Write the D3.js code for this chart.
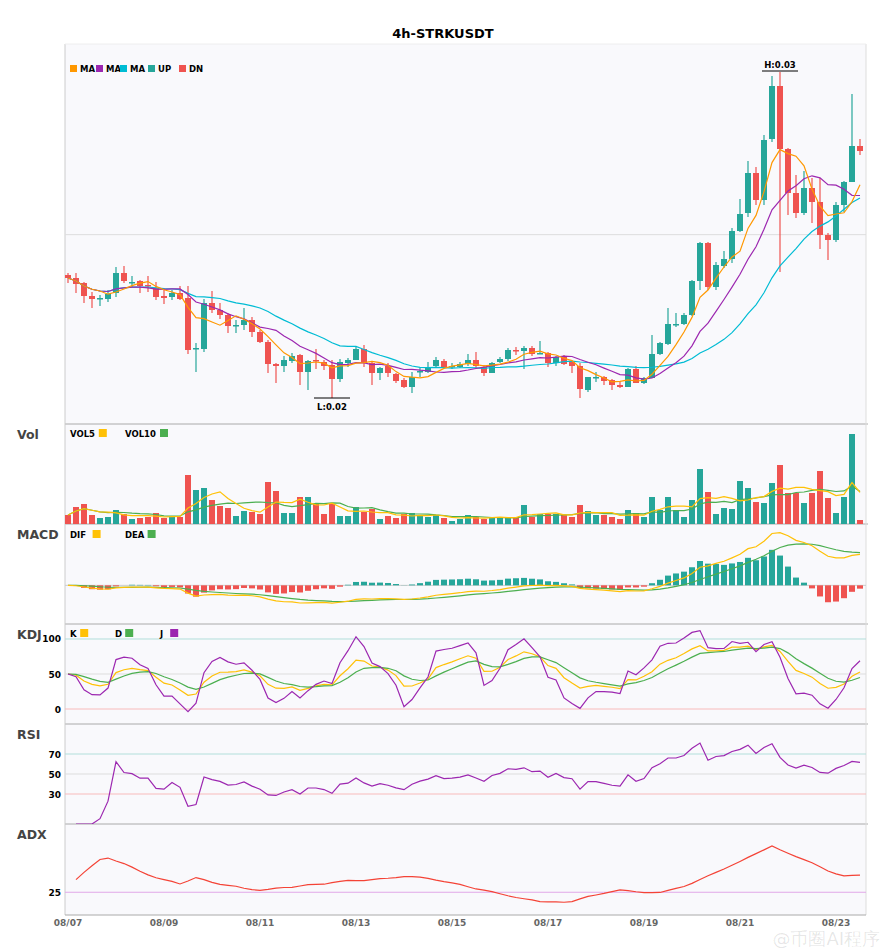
<!DOCTYPE html>
<html><head><meta charset="utf-8">
<script src="https://cdn.jsdelivr.net/npm/d3@7"></script>
<style>body{margin:0;background:#fff;font-family:"DejaVu Sans",sans-serif}</style>
</head><body><svg id="c" width="885" height="950"></svg>
<script>
// 4h candles, 08/07 00:00 onward
const opens  = [0.02379,0.02370,0.02355,0.02316,0.02307,0.02307,0.02325,0.02385,0.02355,0.02361,0.02349,0.02340,0.02316,0.02313,0.02325,0.02310,0.02157,0.02157,0.02295,0.02274,0.02259,0.02226,0.02229,0.02244,0.02208,0.02178,0.02112,0.02106,0.02121,0.02139,0.02088,0.02124,0.02118,0.02109,0.02067,0.02115,0.02124,0.02157,0.02115,0.02085,0.02106,0.02082,0.02064,0.02043,0.02088,0.02088,0.02106,0.02121,0.02103,0.02103,0.02112,0.02124,0.02103,0.02085,0.02118,0.02127,0.02154,0.02151,0.02160,0.02142,0.02145,0.02115,0.02136,0.02118,0.02106,0.02034,0.02070,0.02073,0.02064,0.02049,0.02043,0.02097,0.02055,0.02070,0.02142,0.02172,0.02229,0.02232,0.02259,0.02361,0.02475,0.02343,0.02406,0.02427,0.02511,0.02565,0.02685,0.02604,0.02787,0.02946,0.02757,0.02625,0.02565,0.02640,0.02598,0.02499,0.02484,0.02589,0.02658,0.02766];
const closes = [0.02370,0.02352,0.02316,0.02307,0.02310,0.02322,0.02385,0.02361,0.02358,0.02346,0.02346,0.02313,0.02310,0.02325,0.02307,0.02154,0.02160,0.02295,0.02274,0.02259,0.02226,0.02229,0.02244,0.02208,0.02178,0.02112,0.02106,0.02124,0.02136,0.02088,0.02121,0.02121,0.02106,0.02067,0.02118,0.02124,0.02157,0.02115,0.02085,0.02100,0.02085,0.02061,0.02043,0.02073,0.02091,0.02103,0.02124,0.02103,0.02106,0.02112,0.02124,0.02106,0.02085,0.02115,0.02127,0.02154,0.02151,0.02160,0.02142,0.02145,0.02115,0.02133,0.02112,0.02106,0.02037,0.02073,0.02073,0.02061,0.02049,0.02043,0.02097,0.02055,0.02070,0.02142,0.02175,0.02232,0.02232,0.02259,0.02361,0.02475,0.02343,0.02409,0.02427,0.02511,0.02562,0.02685,0.02604,0.02784,0.02946,0.02757,0.02625,0.02565,0.02640,0.02598,0.02499,0.02484,0.02589,0.02658,0.02766,0.02751];
const highs  = [0.02385,0.02385,0.02358,0.02328,0.02319,0.02334,0.02403,0.02406,0.02376,0.02364,0.02376,0.02358,0.02340,0.02334,0.02346,0.02346,0.02175,0.02307,0.02331,0.02295,0.02265,0.02244,0.02280,0.02253,0.02214,0.02184,0.02115,0.02136,0.02145,0.02142,0.02124,0.02157,0.02124,0.02124,0.02127,0.02130,0.02166,0.02169,0.02118,0.02103,0.02115,0.02085,0.02070,0.02088,0.02100,0.02118,0.02133,0.02127,0.02115,0.02118,0.02142,0.02148,0.02109,0.02118,0.02133,0.02160,0.02163,0.02166,0.02166,0.02181,0.02148,0.02136,0.02139,0.02121,0.02115,0.02073,0.02088,0.02076,0.02067,0.02058,0.02100,0.02106,0.02073,0.02199,0.02178,0.02280,0.02265,0.02265,0.02364,0.02478,0.02478,0.02418,0.02451,0.02520,0.02607,0.02721,0.02703,0.02799,0.02976,0.02988,0.02760,0.02679,0.02691,0.02670,0.02670,0.02505,0.02598,0.02661,0.02922,0.02787];
const lows   = [0.02355,0.02325,0.02295,0.02280,0.02286,0.02298,0.02313,0.02355,0.02343,0.02325,0.02328,0.02304,0.02292,0.02304,0.02304,0.02142,0.02088,0.02148,0.02265,0.02247,0.02205,0.02205,0.02214,0.02193,0.02175,0.02085,0.02055,0.02088,0.02115,0.02049,0.02034,0.02097,0.02094,0.02010,0.02058,0.02103,0.02124,0.02103,0.02049,0.02064,0.02073,0.02055,0.02040,0.02025,0.02073,0.02085,0.02103,0.02100,0.02097,0.02100,0.02106,0.02100,0.02076,0.02085,0.02115,0.02121,0.02139,0.02097,0.02136,0.02142,0.02103,0.02106,0.02109,0.02085,0.02010,0.02028,0.02058,0.02049,0.02034,0.02040,0.02043,0.02055,0.02052,0.02070,0.02139,0.02169,0.02223,0.02229,0.02256,0.02334,0.02334,0.02334,0.02400,0.02415,0.02508,0.02553,0.02589,0.02589,0.02778,0.02388,0.02559,0.02550,0.02559,0.02535,0.02457,0.02424,0.02478,0.02568,0.02658,0.02739];
const volumes = [9,17,20,9,6,7,14,10,5,6,7,11,6,7,7,49,34,36,24,18,16,8,13,12,10,42,33,11,11,27,27,20,10,20,8,8,17,12,15,5,8,6,10,11,8,7,9,6,3,5,9,7,5,6,7,7,7,19,7,10,10,10,9,7,19,13,9,9,7,5,14,11,7,27,14,27,14,7,24,55,32,10,16,15,43,36,22,21,41,59,31,31,21,31,53,26,11,27,90,4];
const tickEvery = 12;

const up = "#26a69a", dn = "#ef5350";
const N = closes.length;
const dates = d3.range(N).map(i => new Date(2024, 7, 7, i * 4));

// indicators
function ma(arr, n){ return arr.map((_, i) => d3.mean(arr.slice(Math.max(0, i - n + 1), i + 1))); }
function ema(arr, n){ const k = 2 / (n + 1); let out = []; arr.forEach((v, i) => out.push(i ? out[i-1] + k * (v - out[i-1]) : v)); return out; }
const ma5 = ma(closes, 5), ma10 = ma(closes, 10), ma20 = ma(closes, 20);
const vol5 = ma(volumes, 5), vol10 = ma(volumes, 10);
const e12 = ema(closes, 12), e26 = ema(closes, 26);
const dif = e12.map((v, i) => v - e26[i]);
const dea = ema(dif, 9);
const hist = dif.map((v, i) => 2 * (v - dea[i]));
let K = [], D = [], J = [];
closes.forEach((c, i) => {
  const lo = d3.min(lows.slice(Math.max(0, i - 8), i + 1)), hi = d3.max(highs.slice(Math.max(0, i - 8), i + 1));
  const rsv = hi === lo ? 50 : (c - lo) / (hi - lo) * 100;
  const k = (i ? K[i-1] : 50) * 2 / 3 + rsv / 3, d = (i ? D[i-1] : 50) * 2 / 3 + k / 3;
  K.push(k); D.push(d); J.push(3 * k - 2 * d);
});
let rsi = [null], ag = 0, al = 0;
for (let i = 1; i < N; i++) {
  const ch = closes[i] - closes[i-1];
  ag = (ag * 13 + Math.max(ch, 0)) / 14; al = (al * 13 + Math.max(-ch, 0)) / 14;
  rsi.push(al === 0 ? 100 : 100 - 100 / (1 + ag / al));
}
let adx = [null], str = 0, sp = 0, sm = 0, ax = null;
for (let i = 1; i < N; i++) {
  const tr = Math.max(highs[i] - lows[i], Math.abs(highs[i] - closes[i-1]), Math.abs(lows[i] - closes[i-1]));
  const upm = highs[i] - highs[i-1], dnm = lows[i-1] - lows[i];
  str = str - str / 14 + tr; sp = sp - sp / 14 + (upm > dnm && upm > 0 ? upm : 0); sm = sm - sm / 14 + (dnm > upm && dnm > 0 ? dnm : 0);
  const pdi = sp / str * 100, mdi = sm / str * 100, dx = Math.abs(pdi - mdi) / (pdi + mdi || 1) * 100;
  ax = ax === null ? dx / 3 : (ax * 13 + dx) / 14;
  adx.push(ax);
}

const svg = d3.select("#c");
const L = 65, R = 866;
const x = d3.scaleLinear().domain([0, N - 1]).range([68, 860]);
const panels = { main:[44,424], vol:[424,524], macd:[524,624], kdj:[624,724], rsi:[724,824], adx:[824,915] };

svg.append("text").attr("x", 443).attr("y", 38).attr("text-anchor", "middle")
  .attr("font-size", 13).attr("font-weight", "bold").text("4h-STRKUSDT");
svg.append("rect").attr("x", L).attr("y", 44).attr("width", R - L).attr("height", 871).attr("fill", "#f9f9fc");

Object.entries(panels).forEach(([k, p]) => {
  svg.append("clipPath").attr("id", "cl-" + k).append("rect").attr("x", L).attr("y", p[0]).attr("width", R - L).attr("height", p[1] - p[0]);
  if (k !== "main") svg.append("line").attr("x1", L).attr("x2", R + 2).attr("y1", p[0]).attr("y2", p[0]).attr("stroke", "#aaa");
});
svg.append("line").attr("x1", L).attr("x2", L).attr("y1", 44).attr("y2", 915).attr("stroke", "#ccc");
svg.append("line").attr("x1", R).attr("x2", R).attr("y1", 44).attr("y2", 915).attr("stroke", "#ddd");
svg.append("line").attr("x1", L).attr("x2", R).attr("y1", 915).attr("y2", 915).attr("stroke", "#aaa");
svg.append("line").attr("x1", L).attr("x2", R).attr("y1", 44).attr("y2", 44).attr("stroke", "#eee");

function path(g, data, y, color, w){
  g.append("path").datum(data).attr("fill", "none").attr("stroke", color).attr("stroke-width", w || 1.2)
    .attr("d", d3.line().defined(d => d !== null).x((d, i) => x(i)).y(d => y(d)));
}
function hline(g, y, v, color){ g.append("line").attr("x1", L).attr("x2", R).attr("y1", y(v)).attr("y2", y(v)).attr("stroke", color).attr("stroke-width", 1); }
function ylab(y, v, txt){ svg.append("text").attr("x", 61).attr("y", y(v) + 3.5).attr("text-anchor", "end").attr("font-size", 9).attr("font-weight", "bold").text(txt); }
function title(t, p){ svg.append("text").attr("x", 17).attr("y", p[0] + 15).attr("font-size", 12.5).attr("font-weight", "bold").attr("fill", "#444").text(t); }
function legend(items, y0){
  let xx = 70;
  items.forEach(([t, c, gap]) => {
    svg.append("text").attr("x", xx).attr("y", y0 + 4).attr("font-size", 8.5).attr("font-weight", "bold").text(t);
    const w = t.length * 6.2 + 4;
    svg.append("rect").attr("x", xx + w).attr("y", y0 - 4).attr("width", 8).attr("height", 8).attr("fill", c);
    xx += gap;
  });
}

// main
const yP = d3.scaleLinear().domain([0.01932, 0.03072]).range([424, 44]);
const gm = svg.append("g").attr("clip-path", "url(#cl-main)");
hline(gm, yP, 0.025, "#ddd");
const cw = 6;
gm.selectAll(".wick").data(closes).join("line").attr("x1", (d, i) => x(i)).attr("x2", (d, i) => x(i))
  .attr("y1", (d, i) => yP(highs[i])).attr("y2", (d, i) => yP(lows[i]))
  .attr("stroke", (d, i) => d >= opens[i] ? up : dn).attr("stroke-width", 1.2);
gm.selectAll(".body").data(closes).join("rect").attr("x", (d, i) => x(i) - cw / 2).attr("width", cw)
  .attr("y", (d, i) => yP(Math.max(d, opens[i]))).attr("height", (d, i) => Math.max(1.5, Math.abs(yP(d) - yP(opens[i]))))
  .attr("fill", (d, i) => d >= opens[i] ? up : dn);
path(gm, ma20, yP, "#00bcd4");
path(gm, ma10, yP, "#9c27b0");
path(gm, ma5, yP, "#ff9800");
const hiI = d3.maxIndex(highs), loI = d3.minIndex(lows);
gm.append("line").attr("x1", x(hiI) - 18).attr("x2", x(hiI) + 18).attr("y1", yP(highs[hiI]) - 1).attr("y2", yP(highs[hiI]) - 1).attr("stroke", "#000");
gm.append("text").attr("x", x(hiI)).attr("y", yP(highs[hiI]) - 4).attr("text-anchor", "middle").attr("font-size", 8.5).attr("font-weight", "bold").text("H:" + highs[hiI].toFixed(2));
gm.append("line").attr("x1", x(loI) - 18).attr("x2", x(loI) + 18).attr("y1", yP(lows[loI])).attr("y2", yP(lows[loI])).attr("stroke", "#000");
gm.append("text").attr("x", x(loI)).attr("y", yP(lows[loI]) + 12).attr("text-anchor", "middle").attr("font-size", 8.5).attr("font-weight", "bold").text("L:" + lows[loI].toFixed(2));
[["MA", "#ff9800", 80], ["MA", "#9c27b0", 106], ["MA", "#00bcd4", 130], ["UP", up, 158], ["DN", dn, 189]].forEach(([t, c, tx]) => {
  svg.append("rect").attr("x", tx - 10).attr("y", 65).attr("width", 7).attr("height", 7).attr("fill", c);
  svg.append("text").attr("x", tx).attr("y", 72).attr("font-size", 8.5).attr("font-weight", "bold").text(t);
});

// volume
const yV = d3.scaleLinear().domain([0, d3.max(volumes) / 0.9]).range([524, 424]);
const gv = svg.append("g").attr("clip-path", "url(#cl-vol)");
gv.selectAll("rect").data(volumes).join("rect").attr("x", (d, i) => x(i) - cw / 2).attr("width", cw)
  .attr("y", d => yV(d)).attr("height", d => 524 - yV(d)).attr("fill", (d, i) => closes[i] >= opens[i] ? up : dn);
path(gv, vol10, yV, "#4caf50"); path(gv, vol5, yV, "#ffc107");
title("Vol", panels.vol); legend([["VOL5", "#ffc107", 55], ["VOL10", "#4caf50", 60]], 433);

// macd
const mx = d3.max([...dif, ...dea, ...hist].map(Math.abs));
const yM = d3.scaleLinear().domain([-mx * 0.62, mx * 1.05]).range([618, 530]);
const gc = svg.append("g").attr("clip-path", "url(#cl-macd)");
hline(gc, yM, 0, "#ccc");
gc.selectAll("rect").data(hist).join("rect").attr("x", (d, i) => x(i) - cw / 2).attr("width", cw)
  .attr("y", d => yM(Math.max(0, d))).attr("height", d => Math.abs(yM(d) - yM(0))).attr("fill", d => d >= 0 ? up : dn);
path(gc, dea, yM, "#4caf50"); path(gc, dif, yM, "#ffc107");
title("MACD", panels.macd); legend([["DIF", "#ffc107", 55], ["DEA", "#4caf50", 60]], 534);

// kdj
const yK = d3.scaleLinear().domain([-21.4, 121.4]).range([724, 624]);
const gk = svg.append("g").attr("clip-path", "url(#cl-kdj)");
hline(gk, yK, 100, "#b2dfdb"); hline(gk, yK, 50, "#ddd"); hline(gk, yK, 0, "#f8bbbb");
path(gk, K, yK, "#ffc107"); path(gk, D, yK, "#4caf50"); path(gk, J, yK, "#9c27b0");
ylab(yK, 100, "100"); ylab(yK, 50, "50"); ylab(yK, 0, "0");
title("KDJ", panels.kdj); legend([["K", "#ffc107", 45], ["D", "#4caf50", 45], ["J", "#9c27b0", 45]], 633);

// rsi
const yR = d3.scaleLinear().domain([0, 100]).range([824, 724]);
const gr = svg.append("g").attr("clip-path", "url(#cl-rsi)");
hline(gr, yR, 70, "#b2dfdb"); hline(gr, yR, 50, "#ddd"); hline(gr, yR, 30, "#f8bbbb");
path(gr, rsi, yR, "#9c27b0");
[70, 50, 30].forEach(v => ylab(yR, v, v));
title("RSI", panels.rsi);

// adx
const yA = d3.scaleLinear().domain([10, 70]).range([915, 824]);
const ga = svg.append("g").attr("clip-path", "url(#cl-adx)");
hline(ga, yA, 25, "#e1a8e8");
path(ga, adx, yA, "#f44336");
ylab(yA, 25, "25");
title("ADX", panels.adx);

// date axis
const fmt = d3.timeFormat("%m/%d");
d3.range(0, N, tickEvery).forEach(i => {
  svg.append("text").attr("x", x(i)).attr("y", 926).attr("text-anchor", "middle").attr("font-size", 9)
    .attr("font-weight", "bold").attr("fill", "#666").text(fmt(dates[i]));
});
svg.append("text").attr("x", 880).attr("y", 945).attr("text-anchor", "end").attr("font-size", 18)
  .attr("fill", "#000").attr("fill-opacity", 0.1).text("@币圈AI程序");
</script></body></html>
